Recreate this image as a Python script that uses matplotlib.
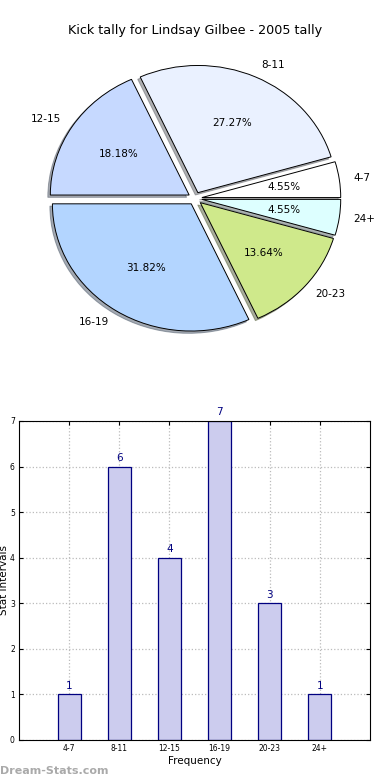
import matplotlib
matplotlib.use("Agg")
import matplotlib.pyplot as plt
import numpy as np

# kick tally per stat interval
intervals = ["4-7", "8-11", "12-15", "16-19", "20-23", "24+"]
kicks = [1, 6, 4, 7, 3, 1]
pie_colors = ["#ffffff", "#eaf1ff", "#c6d9ff", "#b3d5ff", "#cfe98b", "#ddffff"]
title = "Kick tally for Lindsay Gilbee - 2005 tally"

fig = plt.figure(figsize=(3.9, 7.8), dpi=100)
fig.text(0.5, 0.961, title, ha="center", va="center", fontsize=9.2)

#------- pie -------
ax1 = fig.add_axes([0.055, 0.5417, 0.89, 0.4077])
wedges, texts, autotexts = ax1.pie(
    kicks, labels=intervals, colors=pie_colors, autopct="%.2f%%",
    explode=[0.05] * len(kicks), startangle=0,
    shadow={"ox": -0.013, "oy": -0.013, "shade": 0.6},
    wedgeprops=dict(edgecolor="black", linewidth=0.7),
    textprops=dict(fontsize=7.5))
ax1.set_aspect("auto")
ax1.set_xlim(-1.25, 1.25)
ax1.set_ylim(-1.25, 1.25)

#------- bars -------
ax2 = fig.add_axes([0.0487, 0.0513, 0.9, 0.409])
x = np.arange(len(intervals))
ax2.bar(x, kicks, width=0.46, color="#ccccee", edgecolor="navy", linewidth=0.9, zorder=2)
for xi, k in zip(x, kicks):
    ax2.text(xi, k + 0.08, str(k), ha="center", va="bottom", color="navy", fontsize=7.5)

ax2.set_xlim(-1, 6)
ax2.set_ylim(0, 7)
ax2.set_xticks(x)
ax2.set_xticklabels(intervals)
ax2.set_yticks(range(8))
ax2.tick_params(direction="in", top=True, right=True, labelsize=5.5, length=3, pad=3)
ax2.grid(True, linestyle=":", color="#bbbbbb", linewidth=0.9, zorder=3)
for sp in ax2.spines.values():
    sp.set_zorder(5)
ax2.set_xlabel("Frequency", fontsize=7.5, labelpad=2)
ax2.set_ylabel("Stat Intervals", fontsize=7.5)
ax2.yaxis.set_label_coords(-0.028, 0.5)

fig.text(0.0, 0.012, "Dream-Stats.com", color="#aaaaaa", fontsize=8, fontweight="bold",
         ha="left", va="center")

fig.savefig("out.png", dpi=100)
